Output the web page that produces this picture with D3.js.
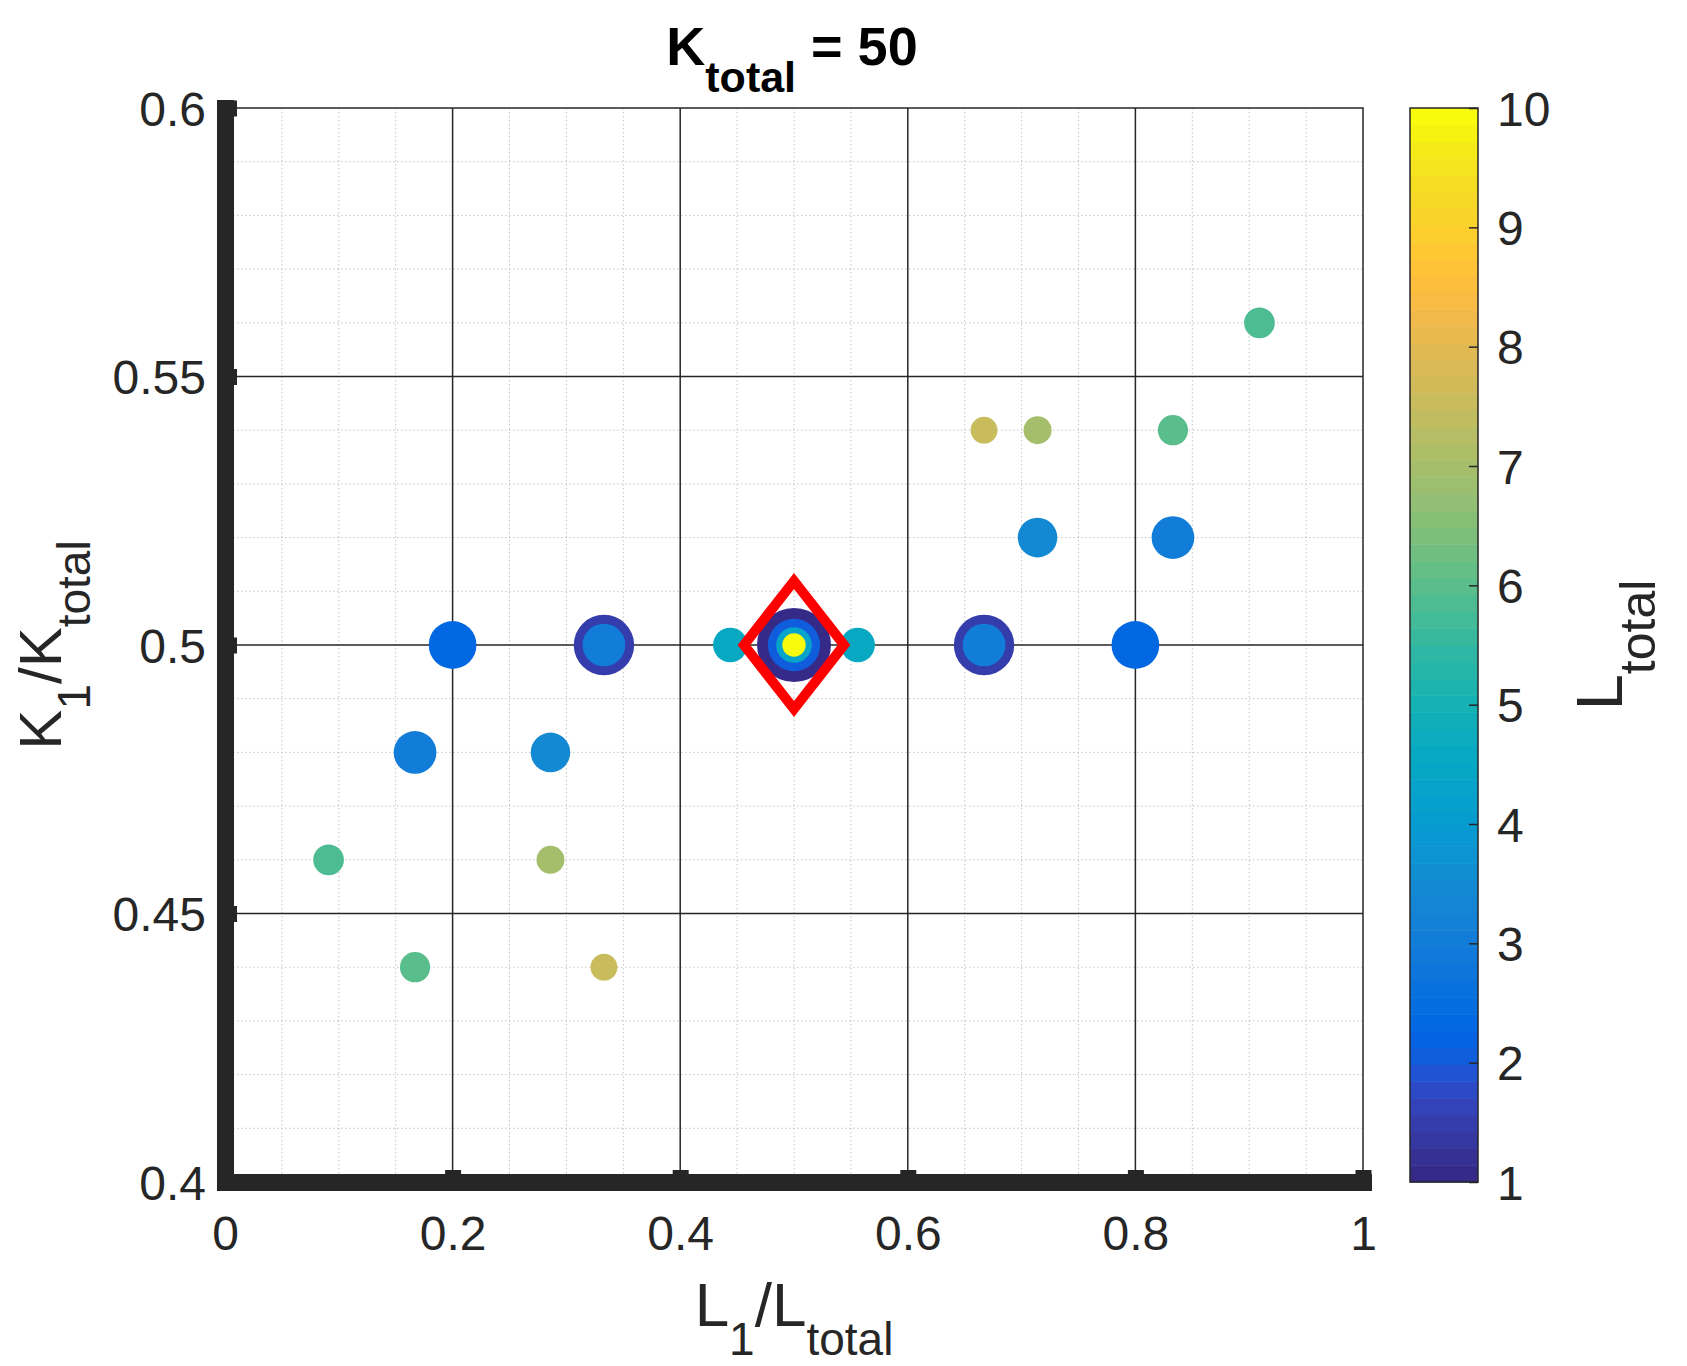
<!DOCTYPE html>
<html>
<head>
<meta charset="utf-8">
<script src="https://cdn.jsdelivr.net/npm/d3@7"></script>
<style>
    body { margin: 0; background: #fff; }
    text { font-family: "Liberation Sans", Arial, Helvetica, sans-serif; fill: #262626; }
</style>
</head>
<body>
<svg id="chart" width="1687" height="1366"></svg>
<script>
// scatter points: x = L1/Ltotal, y = K1/Ktotal, colour value (colorbar units)
var ratioL = [0.091, 0.167, 0.167, 0.2, 0.286, 0.286, 0.333, 0.333, 0.333, 0.444,
              0.5, 0.5, 0.5, 0.5, 0.556, 0.667, 0.667, 0.8, 0.714, 0.833,
              0.667, 0.714, 0.833, 0.909];
var ratioK = [0.46, 0.44, 0.48, 0.50, 0.48, 0.46, 0.44, 0.50, 0.50, 0.50,
              0.50, 0.50, 0.50, 0.50, 0.50, 0.50, 0.50, 0.50, 0.52, 0.52,
              0.54, 0.54, 0.54, 0.56];
var Ltotal = [5.8, 6.0, 3.0, 2.4, 3.5, 7.0, 7.6, 1.5, 3.0, 4.6,
              1.0, 2.0, 4.3, 10, 4.6, 1.5, 3.0, 2.4, 3.5, 3.0,
              7.6, 7.0, 6.0, 5.8];

// the highlighted point (red diamond)
var markL = [0.5];
var markK = [0.5];

var xTicks = [0, 0.2, 0.4, 0.6, 0.8, 1];
var yTicks = [0.4, 0.45, 0.5, 0.55, 0.6];
var cTicks = [1, 2, 3, 4, 5, 6, 7, 8, 9, 10];
var titleK = 50;

// parula, 64 steps
var parula = [
    [0.2081,0.1663,0.5292],[0.2116,0.1898,0.5777],[0.2123,0.2138,0.6270],[0.2081,0.2386,0.6771],
    [0.1959,0.2645,0.7279],[0.1707,0.2919,0.7792],[0.1253,0.3242,0.8303],[0.0591,0.3598,0.8683],
    [0.0117,0.3875,0.8820],[0.0060,0.4086,0.8828],[0.0165,0.4266,0.8786],[0.0329,0.4430,0.8720],
    [0.0498,0.4586,0.8641],[0.0629,0.4737,0.8554],[0.0723,0.4887,0.8467],[0.0779,0.5040,0.8384],
    [0.0793,0.5200,0.8312],[0.0749,0.5375,0.8263],[0.0641,0.5570,0.8240],[0.0488,0.5772,0.8228],
    [0.0343,0.5966,0.8199],[0.0265,0.6137,0.8135],[0.0239,0.6287,0.8038],[0.0231,0.6418,0.7913],
    [0.0228,0.6535,0.7768],[0.0267,0.6642,0.7607],[0.0384,0.6743,0.7436],[0.0590,0.6838,0.7254],
    [0.0843,0.6928,0.7062],[0.1133,0.7015,0.6859],[0.1453,0.7098,0.6646],[0.1801,0.7177,0.6424],
    [0.2178,0.7250,0.6193],[0.2586,0.7317,0.5954],[0.3022,0.7376,0.5712],[0.3482,0.7424,0.5473],
    [0.3953,0.7459,0.5244],[0.4420,0.7481,0.5033],[0.4871,0.7491,0.4840],[0.5300,0.7491,0.4661],
    [0.5709,0.7485,0.4494],[0.6099,0.7473,0.4337],[0.6473,0.7456,0.4188],[0.6834,0.7435,0.4044],
    [0.7184,0.7411,0.3905],[0.7525,0.7384,0.3768],[0.7858,0.7356,0.3633],[0.8185,0.7327,0.3498],
    [0.8507,0.7299,0.3360],[0.8824,0.7274,0.3217],[0.9139,0.7258,0.3063],[0.9450,0.7261,0.2886],
    [0.9739,0.7314,0.2666],[0.9938,0.7455,0.2403],[0.9990,0.7653,0.2164],[0.9955,0.7861,0.1967],
    [0.9880,0.8066,0.1794],[0.9789,0.8271,0.1633],[0.9697,0.8481,0.1475],[0.9626,0.8705,0.1309],
    [0.9589,0.8949,0.1132],[0.9598,0.9218,0.0948],[0.9661,0.9514,0.0755],[0.9763,0.9831,0.0538]
].map(function(c) { return d3.rgb(c[0] * 255, c[1] * 255, c[2] * 255).formatHex(); });

var ink = '#262626';
var box = { left: 225, right: 1363, top: 108, bottom: 1182 };
var cbar = { left: 1410, right: 1478 };

var svg = d3.select('#chart');

var x = d3.scaleLinear().domain([0, 1]).range([box.left, box.right]);
var y = d3.scaleLinear().domain([0.4, 0.6]).range([box.bottom, box.top]);
var cy = d3.scaleLinear().domain([1, 10]).range([box.bottom, box.top]);
var color = d3.scaleQuantize().domain([1, 10]).range(parula);
// marker area goes as 1/L
var radius = d3.scalePow().exponent(-0.5).domain([1, 10]).range([37, 37 / Math.sqrt(10)]);

// minor grid
var xMinor = d3.range(0.05, 1, 0.05).filter(function(d) { return Math.abs(d * 5 - Math.round(d * 5)) > 1e-6; });
var yMinor = d3.range(0.41, 0.6, 0.01).filter(function(d) { return Math.abs(d * 20 - Math.round(d * 20)) > 1e-6; });

var grid = svg.append('g');
grid.selectAll('.vminor').data(xMinor).enter().append('line')
    .attr('x1', x).attr('x2', x).attr('y1', box.top).attr('y2', box.bottom)
    .attr('stroke', '#c4c4c4').attr('stroke-width', 1).attr('stroke-dasharray', '1.5,2.5');
grid.selectAll('.hminor').data(yMinor).enter().append('line')
    .attr('y1', y).attr('y2', y).attr('x1', box.left).attr('x2', box.right)
    .attr('stroke', '#c4c4c4').attr('stroke-width', 1).attr('stroke-dasharray', '1.5,2.5');

// major grid
grid.selectAll('.vmajor').data(xTicks.slice(1, -1)).enter().append('line')
    .attr('x1', x).attr('x2', x).attr('y1', box.top).attr('y2', box.bottom)
    .attr('stroke', ink).attr('stroke-width', 1.5);
grid.selectAll('.hmajor').data(yTicks.slice(1, -1)).enter().append('line')
    .attr('y1', y).attr('y2', y).attr('x1', box.left).attr('x2', box.right)
    .attr('stroke', ink).attr('stroke-width', 1.5);

// top / right box
svg.append('path')
    .attr('d', 'M' + box.left + ',' + box.top + 'H' + box.right + 'V' + box.bottom)
    .attr('fill', 'none').attr('stroke', ink).attr('stroke-width', 1.5);

// points, biggest first
var points = ratioL.map(function(d, i) { return { l: d, k: ratioK[i], v: Ltotal[i] }; })
    .sort(function(a, b) { return a.v - b.v; });

svg.append('g').selectAll('circle').data(points).enter().append('circle')
    .attr('cx', function(d) { return x(d.l); })
    .attr('cy', function(d) { return y(d.k); })
    .attr('r', function(d) { return radius(d.v); })
    .attr('fill', function(d) { return color(d.v); });

// red diamond
svg.append('g').selectAll('path').data(markL).enter().append('path')
    .attr('transform', function(d, i) { return 'translate(' + x(d) + ',' + y(markK[i]) + ')'; })
    .attr('d', 'M0,-64L50,0L0,64L-50,0Z')
    .attr('fill', 'none').attr('stroke', '#ff0000').attr('stroke-width', 10)
    .attr('stroke-linejoin', 'miter');

// axes
var fmt = d3.format('~g');
var xAxis = svg.append('g')
    .attr('transform', 'translate(0,' + box.bottom + ')')
    .call(d3.axisBottom(x).tickValues(xTicks).tickFormat(fmt).tickSize(-12).tickSizeOuter(0).tickPadding(34));
var yAxis = svg.append('g')
    .attr('transform', 'translate(' + box.left + ',0)')
    .call(d3.axisLeft(y).tickValues(yTicks).tickFormat(fmt).tickSize(-12).tickSizeOuter(0).tickPadding(19));

[xAxis, yAxis].forEach(function(ax) {
    ax.select('.domain').attr('stroke', ink).attr('stroke-width', 17).attr('stroke-linecap', 'square');
    ax.selectAll('.tick line').attr('stroke', ink).attr('stroke-width', 16);
    ax.selectAll('.tick text').attr('font-size', 48).attr('fill', ink)
        .style('font-family', '"Liberation Sans", Arial, Helvetica, sans-serif');
});
yAxis.selectAll('.tick text').attr('dy', '0.36em');

// colorbar
var bands = d3.range(parula.length);
var step = 9 / parula.length;
svg.append('g').selectAll('rect').data(bands).enter().append('rect')
    .attr('x', cbar.left)
    .attr('width', cbar.right - cbar.left)
    .attr('y', function(i) { return cy(1 + (i + 1) * step); })
    .attr('height', function(i) { return cy(1 + i * step) - cy(1 + (i + 1) * step) + 0.5; })
    .attr('fill', function(i) { return parula[i]; });
svg.append('rect')
    .attr('x', cbar.left).attr('y', box.top)
    .attr('width', cbar.right - cbar.left).attr('height', box.bottom - box.top)
    .attr('fill', 'none').attr('stroke', ink).attr('stroke-width', 1.5);

var cAxis = svg.append('g')
    .attr('transform', 'translate(' + cbar.right + ',0)')
    .call(d3.axisRight(cy).tickValues(cTicks).tickFormat(fmt).tickSize(-9).tickSizeOuter(0).tickPadding(19));
cAxis.select('.domain').remove();
cAxis.selectAll('.tick line').attr('stroke', ink).attr('stroke-width', 1.5);
cAxis.selectAll('.tick text').attr('font-size', 48).attr('fill', ink).attr('dy', '0.36em')
    .style('font-family', '"Liberation Sans", Arial, Helvetica, sans-serif');

// labels
function subLabel(g, main, sub, mainSize, subSize, shift) {
    var t = g.append('text').attr('text-anchor', 'middle').attr('font-size', mainSize);
    t.append('tspan').text(main[0]);
    t.append('tspan').attr('font-size', subSize).attr('dy', shift).text(sub[0]);
    if (main.length > 1) {
        t.append('tspan').attr('dy', -shift).text(main[1]);
        t.append('tspan').attr('font-size', subSize).attr('dy', shift).text(sub[1]);
    }
    return t;
}

subLabel(svg.append('g').attr('transform', 'translate(794,1326)'),
    ['L', '/L'], ['1', 'total'], 62, 46, 29);
subLabel(svg.append('g').attr('transform', 'translate(61,645) rotate(-90)'),
    ['K', '/K'], ['1', 'total'], 60, 46, 29);
subLabel(svg.append('g').attr('transform', 'translate(1622,645) rotate(-90)'),
    ['L'], ['total'], 65, 50, 33);

var title = svg.append('text').attr('x', 792).attr('y', 65)
    .attr('text-anchor', 'middle').attr('font-size', 54).attr('font-weight', 'bold').attr('fill', '#000');
title.append('tspan').text('K');
title.append('tspan').attr('font-size', 43).attr('dy', 27).text('total');
title.append('tspan').attr('dy', -27).text(' = ' + titleK);
title.selectAll('tspan').attr('fill', '#000');
</script>
</body>
</html>
